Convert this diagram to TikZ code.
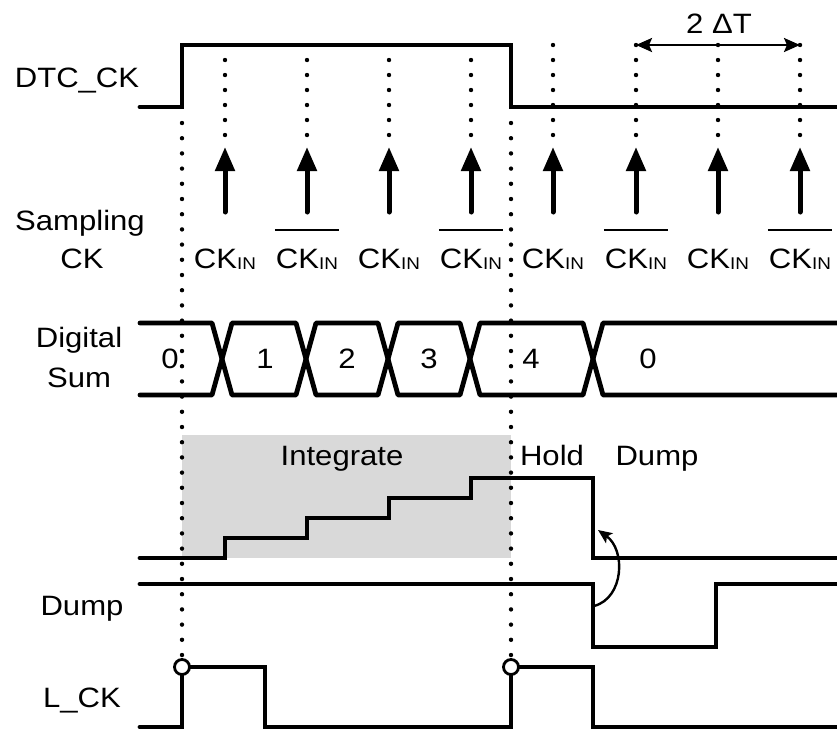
\documentclass[tikz,border=0pt]{standalone}
\usepackage{fontspec}
\setmainfont[FakeStretch=1.11]{Liberation Sans}
\usetikzlibrary{arrows.meta}
\newcommand\ckin{CK\raisebox{-1.5pt}{\fontsize{17}{17}\selectfont IN}}
\begin{document}
\begin{tikzpicture}[x=1pt,y=-1pt,
  sig/.style={line width=4.8pt,line cap=round,line join=miter},
  dotline/.style={line width=4.4pt,line cap=round,dash pattern=on 0pt off 15pt},
  longdot/.style={line width=4.4pt,line cap=round,dash pattern=on 0pt off 15.2pt},
  lbl/.style={inner sep=0pt,anchor=base,font=\fontsize{28}{30}\selectfont},
  samp/.style={line width=5pt,line cap=round,-{Triangle[length=24pt,width=19pt]}},
  bar/.style={line width=1.8pt},
  ring/.style={circle,draw,fill=white,line width=2.8pt,minimum size=15pt,inner sep=0pt},
  thin/.style={line width=2.4pt}
]
\useasboundingbox (0,0) rectangle (837,732);
% integrate region
\fill[black!15] (182,435) rectangle (511,558);
% dotted guide lines
\foreach \x in {225,307,389,471} \draw[dotline] (\x,60) -- (\x,136);
\foreach \x in {553,636,718,800} \draw[dotline] (\x,45) -- (\x,136);
\foreach \x in {182,511} \draw[longdot] (\x,123) -- (\x,657);
% sampling arrows
\foreach \x in {225,307,389,471,553,636,718,800} {
  \coordinate (t\x) at (\x,212);
  \coordinate (h\x) at (\x,147);
  \draw[samp] (t\x) -- (h\x);
}
% left labels
\node[lbl] (lDTC) at (77,87) {DTC\_CK};
\node[lbl] (lSamp) at (80,230) {Sampling};
\node[lbl] (lCK) at (82,268) {CK};
\node[lbl] (lDig) at (79,347) {Digital};
\node[lbl] (lSum) at (79,387) {Sum};
\node[lbl] (lDump) at (82,615) {Dump};
\node[lbl] (lLCK) at (82,707) {L\_CK};
% CK_IN labels
\node[lbl] (s1) at (225,268) {\ckin};
\node[lbl] (s2) at (307,268) {\ckin};
\node[lbl] (s3) at (389,268) {\ckin};
\node[lbl] (s4) at (471,268) {\ckin};
\node[lbl] (s5) at (553,268) {\ckin};
\node[lbl] (s6) at (636,268) {\ckin};
\node[lbl] (s7) at (718,268) {\ckin};
\node[lbl] (s8) at (800,268) {\ckin};
\foreach \n in {s2,s4,s6,s8}
  \draw[bar] ([xshift=-1pt,yshift=18pt]\n.north west) -- ([xshift=1pt,yshift=18pt]\n.north east);
% DTC_CK
\draw[sig] (140,107) -- (182,107) -- (182,45) -- (511,45) -- (511,107) -- (837,107);
% 2 Delta T
\coordinate (dA) at (636,45);
\coordinate (dB) at (800,45);
\draw[thin,{Stealth[length=16pt,width=14pt,inset=3pt]}-{Stealth[length=16pt,width=14pt,inset=3pt]}] (dA) -- (dB);
\node[lbl] (dT) at (719,33) {2 ΔT};
% Digital sum bus
\draw[sig,line join=round] (140,323) -- (212,323) -- (232,395) -- (296,395) -- (316,323) -- (378,323) -- (398,395)
  -- (460,395) -- (480,323) -- (583,323) -- (603,395) -- (837,395);
\draw[sig,line join=round] (140,395) -- (212,395) -- (232,323) -- (296,323) -- (316,395) -- (378,395) -- (398,323)
  -- (460,323) -- (480,395) -- (583,395) -- (603,323) -- (837,323);
\node[lbl] (v0) at (170,368) {0};
\node[lbl] (v1) at (265,368) {1};
\node[lbl] (v2) at (347,368) {2};
\node[lbl] (v3) at (429,368) {3};
\node[lbl] (v4) at (531,368) {4};
\node[lbl] (v5) at (648,368) {0};
% integrator output
\node[lbl] (lInt) at (342,465) {Integrate};
\node[lbl] (lHold) at (552,465) {Hold};
\node[lbl] (lDmp) at (657,465) {Dump};
\draw[sig] (140,558) -- (225,558) -- (225,538) -- (307,538) -- (307,518) -- (389,518) -- (389,498)
  -- (471,498) -- (471,478) -- (593,478) -- (593,558) -- (837,558);
% Dump signal
\draw[sig] (140,584) -- (593,584) -- (593,647) -- (716,647) -- (716,584) -- (837,584);
% causality arrow
\coordinate (cA) at (594,606);
\coordinate (cB) at (598,530);
\draw[thin,-{Stealth[length=14pt,width=12pt,inset=3pt]}] (cA) .. controls (624,598) and (626,550) .. (cB);
% L_CK
\draw[sig] (140,727) -- (182,727) -- (182,667) -- (265,667) -- (265,727) -- (511,727) -- (511,667)
  -- (593,667) -- (593,727) -- (837,727);
\node[ring] (r1) at (182,667) {};
\node[ring] (r2) at (511,667) {};
\end{tikzpicture}
\end{document}
